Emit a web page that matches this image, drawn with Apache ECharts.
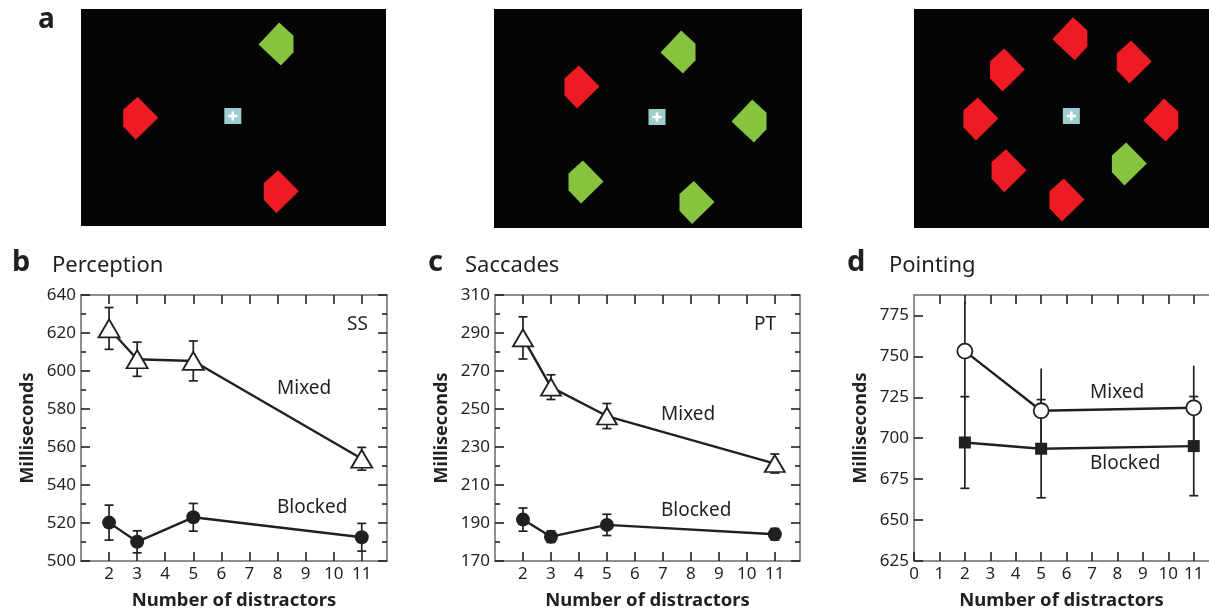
<!DOCTYPE html>
<html><head><meta charset="utf-8">
<script src="https://cdn.jsdelivr.net/npm/echarts@6/dist/echarts.min.js"></script>
<style>html,body{margin:0;padding:0;background:#fff}#c{width:1209px;height:612px}</style>
</head><body><div id="c"></div>
<script>
// ---------- Panel a: stimulus displays (x, y in display pixels from top-left; colour; clipped side) ----------
const display1 = [[195,35,'green','R'],[59.7,109.3,'red','L'],[200.3,182.7,'red','L']];
const display2 = [[184,43,'green','R'],[88,78,'red','L'],[255,112,'green','R'],[92,173,'green','L'],[203,193.5,'green','L']];
const display3 = [[158.5,29.7,'red','R'],[95,61,'red','L'],[224,53,'red','L'],[68,110,'red','L'],[251,111,'red','R'],
                  [96.7,161.7,'red','L'],[219,155,'green','L'],[155.5,191,'red','L']];
const fixations = [[151.8,107],[163,108],[160,107]];

// ---------- Panels b-d ----------
const distractorsBC = [2,3,5,11];
const distractorsD = [2,5,11];
const xTicksBC = [2,3,4,5,6,7,8,9,10,11];
const xTicksD = [0,1,2,3,4,5,6,7,8,9,10,11];

const percMixed = [622.4,606.2,605.3,553.8];
const percMixedErr = [11,9,10.5,6];
const percBlocked = [520.2,510.1,523,512.5];
const percBlockedErr = [9.2,5.8,7.3,7.3];

const saccMixed = [287.4,261.5,246.3,221.3];
const saccMixedErr = [11.1,6.5,6.6,5];
const saccBlocked = [191.8,182.8,189,184.1];
const saccBlockedErr = [6.1,3,5.6,3];

const pointMixed = [753.2,716.8,718.6];
const pointMixedErr = [30.2,25.8,25.7];
const pointBlocked = [697.4,693.6,695.2];
const pointBlockedErr = [28,30,30.3];

const INK = '#231f20';
const FONT = 'Noto Sans';
const RED = '#ed1c24', GREEN = '#86c440';
const PATH_L = 'path://M41,0 L100,49 L36,100 L0,69 L0,30 Z';
const PATH_R = 'path://M59,0 L100,31 L100,69 L64,100 L0,51 Z';
const CROSS = 'path://M36,0 H64 V36 H100 V64 H64 V100 H36 V64 H0 V36 H36 Z';

const chart = echarts.init(document.getElementById('c'), null, {renderer:'canvas'});

const grids = [], xAxes = [], yAxes = [], series = [];

// stimulus displays
const dispGeom = [[81,9,305,217],[494,9,308,219],[914,9,300,219]];
const displays = [display1, display2, display3];
dispGeom.forEach((g,i)=>{
  grids.push({left:g[0], top:g[1], width:g[2], height:g[3], show:true, backgroundColor:'#050505', borderWidth:0});
  xAxes.push({type:'value', gridIndex:i, min:0, max:g[2], show:false});
  yAxes.push({type:'value', gridIndex:i, min:0, max:g[3], inverse:true, show:false});
  series.push({type:'scatter', xAxisIndex:i, yAxisIndex:i, silent:true, symbolSize:[35,43],
    data: displays[i].map(d=>({value:[d[0],d[1]], symbol: d[3]==='L'?PATH_L:PATH_R,
      itemStyle:{color: d[2]==='red'?RED:GREEN, opacity:1}}))});
  series.push({type:'scatter', xAxisIndex:i, yAxisIndex:i, silent:true, symbol:'rect', symbolSize:[17,16],
    itemStyle:{color:'#9dcfd1', opacity:1}, data:[fixations[i]], z:3});
  series.push({type:'scatter', xAxisIndex:i, yAxisIndex:i, silent:true, symbol:CROSS, symbolSize:[9,9],
    itemStyle:{color:'#ffffff', opacity:1}, data:[fixations[i]], z:4});
});

function errRender(capW){
  return function(params, api){
    const x = api.value(0);
    const lo = api.coord([x, api.value(1)]);
    const hi = api.coord([x, api.value(2)]);
    const st = {stroke:INK, lineWidth:1.7};
    const ch = [{type:'line', shape:{x1:lo[0],y1:lo[1],x2:hi[0],y2:hi[1]}, style:st}];
    if (capW){
      ch.push({type:'line', shape:{x1:lo[0]-capW/2,y1:lo[1],x2:lo[0]+capW/2,y2:lo[1]}, style:st});
      ch.push({type:'line', shape:{x1:hi[0]-capW/2,y1:hi[1],x2:hi[0]+capW/2,y2:hi[1]}, style:st});
    }
    return {type:'group', children:ch};
  };
}

const panels = [
  {left:81, top:295, width:306, height:266, xmin:1, xmax:11.9, xt:xTicksBC, ymin:500, ymax:640, yint:20, minor:true, right:true,
   xs:distractorsBC, m:percMixed, me:percMixedErr, b:percBlocked, be:percBlockedErr, mSym:'triangle', mSize:[21,18], bSym:'circle', bSize:14, mCap:9},
  {left:495, top:295, width:305, height:266, xmin:1, xmax:11.9, xt:xTicksBC, ymin:170, ymax:310, yint:20, minor:true, right:true,
   xs:distractorsBC, m:saccMixed, me:saccMixedErr, b:saccBlocked, be:saccBlockedErr, mSym:'triangle', mSize:[20,17], bSym:'circle', bSize:14, mCap:9},
  {left:914, top:295, width:297, height:266, xmin:0, xmax:11.6, xt:xTicksD, ymin:625, ymax:787.5, yint:25, minor:false, right:false,
   xs:distractorsD, m:pointMixed, me:pointMixedErr, b:pointBlocked, be:pointBlockedErr, mSym:'circle', mSize:15, bSym:'rect', bSize:12, mCap:0}
];

panels.forEach((p,k)=>{
  const gi = grids.length;
  grids.push({left:p.left, top:p.top, width:p.width, height:p.height});
  const lineSt = {color:'#6a6a6a', width:1.5};
  const tickSt = {color:INK, width:1.6};
  const xb = xAxes.length;
  xAxes.push({type:'value', gridIndex:gi, min:p.xmin, max:p.xmax, position:'bottom',
    axisLine:{show:true, onZero:false, lineStyle:lineSt},
    axisTick:{show:true, inside:true, length:9, customValues:p.xt, lineStyle:tickSt},
    axisLabel:{show:true, customValues:p.xt, fontFamily:FONT, fontSize:17, color:INK, margin:5},
    splitLine:{show:false},
    name:'Number of distractors', nameLocation:'middle', nameGap:30,
    nameTextStyle:{fontFamily:FONT, fontSize:18.5, fontWeight:'bold', color:INK}});
  xAxes.push({type:'value', gridIndex:gi, min:p.xmin, max:p.xmax, position:'top',
    axisLine:{show:true, onZero:false, lineStyle:lineSt},
    axisTick:{show:true, inside:true, length:9, customValues:p.xt.filter(v=>v>p.xmin), lineStyle:tickSt},
    axisLabel:{show:false}, splitLine:{show:false}});
  const yl = yAxes.length;
  yAxes.push({type:'value', gridIndex:gi, min:p.ymin, max:p.ymax, interval:p.yint, position:'left',
    axisLine:{show:true, onZero:false, lineStyle:lineSt},
    axisTick:{show:true, inside:true, length:9, lineStyle:tickSt},
    minorTick:{show:p.minor, splitNumber:2, length:5, lineStyle:tickSt},
    axisLabel:{fontFamily:FONT, fontSize:17, color:INK, margin:5, showMaxLabel: p.right},
    splitLine:{show:false}, minorSplitLine:{show:false},
    name:'Milliseconds', nameLocation:'middle', nameGap:44, nameRotate:90,
    nameTextStyle:{fontFamily:FONT, fontSize:18, fontWeight:'bold', color:INK}});
  if (p.right){
    yAxes.push({type:'value', gridIndex:gi, min:p.ymin, max:p.ymax, interval:p.yint, position:'right',
      axisLine:{show:true, onZero:false, lineStyle:lineSt},
      axisTick:{show:true, inside:true, length:9, lineStyle:tickSt},
      minorTick:{show:true, splitNumber:2, length:5, lineStyle:tickSt},
      axisLabel:{show:false}, splitLine:{show:false}});
  }
  // error bars
  series.push({type:'custom', xAxisIndex:xb, yAxisIndex:yl, z:1, silent:true, clip:false,
    renderItem: errRender(p.mCap), data: p.xs.map((x,i)=>[x, p.m[i]-p.me[i], p.m[i]+p.me[i]])});
  series.push({type:'custom', xAxisIndex:xb, yAxisIndex:yl, z:1, silent:true, clip:false,
    renderItem: errRender(9), data: p.xs.map((x,i)=>[x, p.b[i]-p.be[i], p.b[i]+p.be[i]])});
  // lines
  series.push({type:'line', xAxisIndex:xb, yAxisIndex:yl, z:3, silent:true,
    data: p.xs.map((x,i)=>[x,p.m[i]]), symbol:p.mSym, symbolSize:p.mSize, showAllSymbol:true,
    lineStyle:{color:INK, width:2.4}, itemStyle:{color:'#ffffff', borderColor:INK, borderWidth:1.8}});
  series.push({type:'line', xAxisIndex:xb, yAxisIndex:yl, z:3, silent:true,
    data: p.xs.map((x,i)=>[x,p.b[i]]), symbol:p.bSym, symbolSize:p.bSize, showAllSymbol:true,
    lineStyle:{color:INK, width:2.4}, itemStyle:{color:INK, borderColor:INK, borderWidth:0}});
});

function txt(x, y, s, size, bold, align){
  return {type:'text', x:x, y:y, silent:true, z:10,
    style:{text:s, fill:INK, font:(bold?'bold ':'')+size+'px "'+FONT+'"', textAlign:align||'left', textVerticalAlign:'middle'}};
}

const graphics = [
  txt(38, 20, 'a', 28, true),
  txt(12, 263, 'b', 29, true), txt(52, 266, 'Perception', 22, false),
  txt(428, 263, 'c', 29, true), txt(465, 266, 'Saccades', 22, false),
  txt(847, 263, 'd', 29, true), txt(889, 266, 'Pointing', 22, false),
  txt(347, 325, 'SS', 19, false), txt(277, 389, 'Mixed', 19, false), txt(277, 508, 'Blocked', 19, false),
  txt(754, 325, 'PT', 19, false), txt(661, 415, 'Mixed', 19, false), txt(661, 511, 'Blocked', 19, false),
  txt(1090, 393, 'Mixed', 19, false), txt(1090, 464, 'Blocked', 19, false)
];

chart.setOption({
  animation:false,
  backgroundColor:'#ffffff',
  textStyle:{fontFamily:FONT},
  grid:grids, xAxis:xAxes, yAxis:yAxes, series:series,
  graphic:graphics
});
</script></body></html>
